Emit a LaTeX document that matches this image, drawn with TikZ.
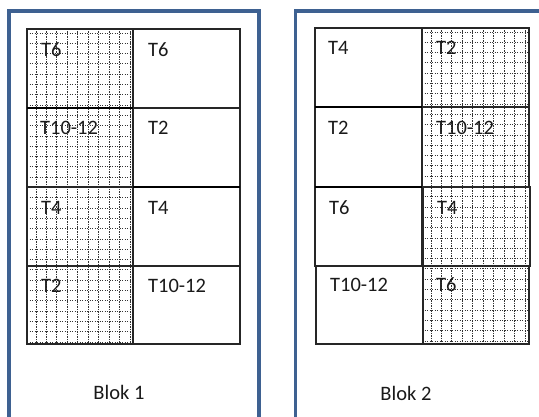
\documentclass[tikz,border=0pt]{standalone}
\usepackage{fontspec}
\setmainfont{Carlito}
\definecolor{frameblue}{HTML}{3E6191}
\definecolor{txt}{HTML}{1A1A1A}
\tikzset{
  frame/.style={draw=frameblue,line width=3.4pt},
  cellbox/.style={draw=black!85,line width=1.1pt},
  thickrule/.style={draw=black,line width=1.8pt},
  hatchline/.style={draw=black!80,line width=0.9pt,dash pattern=on 1.2pt off 1.3pt},
  lbl/.style={anchor=west,inner sep=0pt,font=\fontsize{20.5}{20.5}\selectfont,text=txt},
}
\begin{document}
\begin{tikzpicture}[x=1pt,y=-1pt]
\useasboundingbox (0,0) rectangle (539,417);
% hatched areas
\begin{scope}
  \clip (27,29) rectangle (133,344);
  \foreach \i in {0,...,10} {\draw[hatchline] ({36+\i*10.45},29) -- ({36+\i*10.45},344);}
  \foreach \j in {0,...,31} {\draw[hatchline] (27,{33+\j*10.3}) -- (133,{33+\j*10.3});}
\end{scope}
\begin{scope}
  \clip (422,28) rectangle (529,344);
  \foreach \i in {0,...,10} {\draw[hatchline] ({431+\i*10.45},28) -- ({431+\i*10.45},344);}
  \foreach \j in {0,...,31} {\draw[hatchline] (422,{32+\j*10.3}) -- (529,{32+\j*10.3});}
\end{scope}
% Blok 1 cells
\foreach \ya/\yb in {29/108,108/187,187/266,266/344} {
  \draw[cellbox] (27,\ya) rectangle (133,\yb);
  \draw[cellbox] (133,\ya) rectangle (240,\yb);
}
\draw[thickrule] (27,108) -- (133,108);
\draw[thickrule] (133,187) -- (240,187);
% Blok 2 cells
\foreach \ya/\yb in {28/107,107/187,187/266} {
  \draw[cellbox] (315,\ya) rectangle (422,\yb);
}
\draw[cellbox] (316,266) rectangle (423,344);
\foreach \ya/\yb in {28/107,107/187} {
  \draw[cellbox] (422,\ya) rectangle (529,\yb);
}
\draw[cellbox] (423,187) rectangle (530,266);
\draw[cellbox] (423,266) rectangle (529,344);
\draw[thickrule] (315,107) -- (422,107);
\draw[thickrule] (315,187) -- (422,187);
% frames
\draw[frame] (9,425) -- (9,11) -- (259,11) -- (259,425);
\draw[frame] (295.5,425) -- (295.5,11) -- (545,11);
% Blok 1 labels
\node[lbl] (a1) at (41,49.5) {T6};
\node[lbl] (b1) at (148,49.5) {T6};
\node[lbl] (a2) at (40,128) {T10-12};
\node[lbl] (b2) at (148,128) {T2};
\node[lbl] (a3) at (41,208) {T4};
\node[lbl] (b3) at (148,208) {T4};
\node[lbl] (a4) at (41,286) {T2};
\node[lbl] (b4) at (148,286) {T10-12};
\node[lbl,anchor=center] (blok1) at (119,392) {Blok 1};
% Blok 2 labels
\node[lbl] (c1) at (328,48) {T4};
\node[lbl] (d1) at (436,48) {T2};
\node[lbl] (c2) at (328,128) {T2};
\node[lbl] (d2) at (436,128) {T10-12};
\node[lbl] (c3) at (329,208) {T6};
\node[lbl] (d3) at (437,208) {T4};
\node[lbl] (c4) at (330,285) {T10-12};
\node[lbl] (d4) at (436,285) {T6};
\node[lbl,anchor=center] (blok2) at (406,393) {Blok 2};
\end{tikzpicture}
\end{document}
